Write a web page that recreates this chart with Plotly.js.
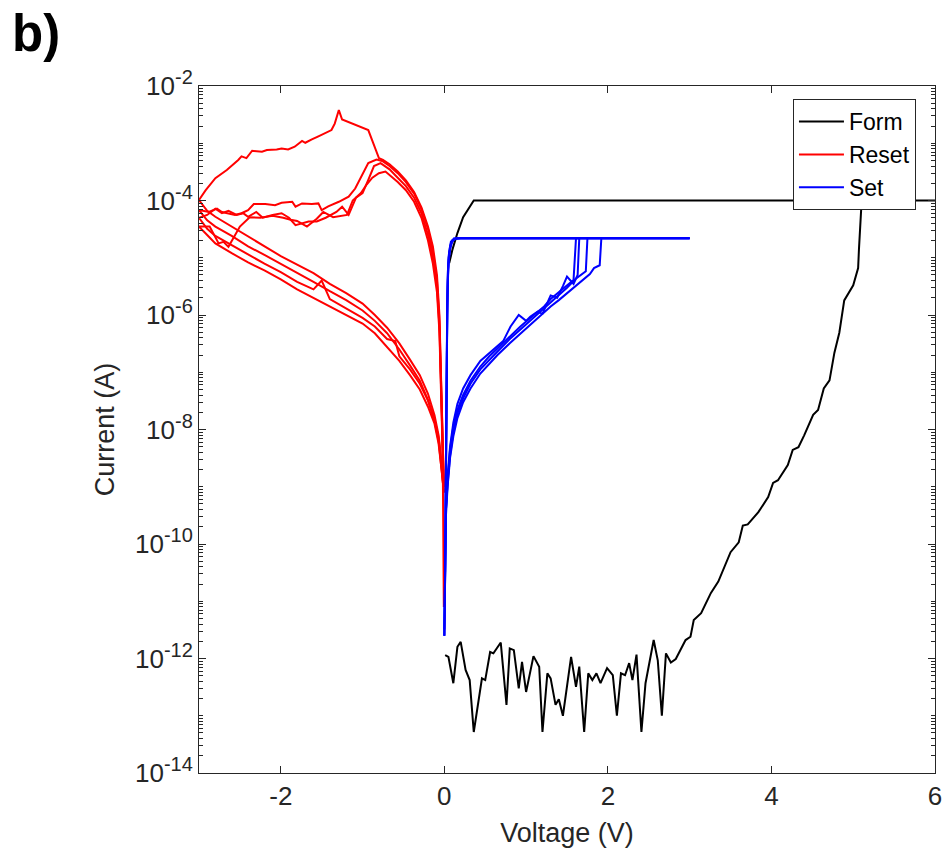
<!DOCTYPE html>
<html>
<head>
<meta charset="utf-8">
<script src="https://cdn.plot.ly/plotly-3.0.1.min.js"></script>
<style>html,body{margin:0;padding:0;background:#fff;}#chart{width:942px;height:852px;}</style>
</head>
<body>
<div id="chart"></div>
<script>
// ---------------- Data (Voltage in V, Current in A) ----------------
const formV = [0.01,0.05,0.11,0.16,0.20,0.26,0.31,0.36,0.46,0.50,0.56,0.60,0.69,0.76,0.80,0.85,0.91,0.95,1.00,1.09,1.16,1.20,1.26,1.30,1.36,1.40,1.45,1.55,1.61,1.65,1.71,1.76,1.81,1.86,1.91,1.99,2.06,2.11,2.16,2.21,2.26,2.30,2.35,2.41,2.46,2.56,2.61,2.66,2.71,2.77,2.83,2.89,2.95,3.01,3.05,3.14,3.26,3.35,3.50,3.60,3.65,3.71,3.84,3.96,4.02,4.08,4.20,4.26,4.33,4.40,4.51,4.57,4.64,4.71,4.77,4.83,4.89,5.00,5.06,5.07,5.10,5.12,6.00,0.36,0.23,0.16,0.10,0.06];
const formI = [1.15e-12,1.07e-12,3.7e-13,1.6e-12,1.95e-12,6.3e-13,4.2e-13,5.2e-14,4.5e-13,4.2e-13,1.3e-12,1.23e-12,1.9e-12,1.55e-13,1.5e-12,1.4e-12,3.0e-13,8.7e-13,2.6e-13,1.1e-12,7.2e-13,5.2e-14,5.5e-13,4.5e-13,1.55e-13,1.95e-13,1.0e-13,1.07e-12,3.2e-13,7.2e-13,5.2e-14,5.5e-13,4.2e-13,5.5e-13,3.7e-13,6.8e-13,5.1e-13,1.0e-13,5.5e-13,5.1e-13,8.3e-13,4.2e-13,1.17e-12,5.2e-14,3.7e-13,2.1e-12,9.3e-13,1.0e-13,1.23e-12,8.5e-13,9.8e-13,1.4e-12,2.1e-12,2.4e-12,4.7e-12,6.2e-12,1.4e-11,2.2e-11,7.2e-11,1.07e-10,2.1e-10,2.2e-10,3.6e-10,6.6e-10,1.17e-9,1.3e-9,2.4e-9,4.4e-9,4.9e-9,7.9e-9,1.8e-8,2.2e-8,5.2e-8,7.2e-8,2.2e-7,4.9e-7,1.8e-6,3.3e-6,6.6e-6,1.4e-5,8.3e-5,1e-4,1e-4,1e-4,5.1e-5,2.7e-5,1.4e-5,8.1e-6];

const resetV1 = [-0.005,-0.015,-0.03,-0.045,-0.06,-0.09,-0.14,-0.2,-0.28,-0.37,-0.47,-0.57,-0.67,-0.75,-0.80,-0.93,-1.13,-1.25,-1.29,-1.34,-1.38,-1.46,-1.54,-1.62,-1.70,-1.74,-1.83,-1.91,-1.99,-2.05,-2.17,-2.23,-2.35,-2.42,-2.48,-2.52,-2.66,-2.80,-2.92,-3.0,
  -2.9,-2.8,-2.6,-2.4,-2.2,-2.0,-1.8,-1.6,-1.4,-1.2,-1.0,-0.85,-0.7,-0.55,-0.42,-0.3,-0.2,-0.12,-0.07,-0.04,-0.02,-0.005];
const resetI1 = [1e-9,3.2e-9,2.5e-8,1.58e-7,1e-6,5e-6,1.58e-5,3.5e-5,7.6e-5,1.41e-4,2.24e-4,3.2e-4,4.3e-4,5.1e-4,5.5e-4,1.7e-3,2.2e-3,2.6e-3,3.8e-3,2.2e-3,1.7e-3,1.48e-3,1.32e-3,1.17e-3,1.02e-3,1.1e-3,8.7e-4,7.8e-4,8.1e-4,7.8e-4,7.6e-4,7.1e-4,7.4e-4,5.5e-4,5.9e-4,5.1e-4,3.4e-4,2.45e-4,1.5e-4,1.02e-4,
  6.6e-5,5.2e-5,3.5e-5,2.4e-5,1.58e-5,1.07e-5,7.6e-6,5.4e-6,3.5e-6,2.4e-6,1.58e-6,1e-6,6e-7,3.2e-7,1.66e-7,8.9e-8,4.2e-8,1.78e-8,7.9e-9,3.2e-9,1.26e-9,7.9e-10];

const resetV2 = [-0.005,-0.015,-0.03,-0.045,-0.06,-0.09,-0.14,-0.2,-0.28,-0.37,-0.47,-0.57,-0.67,-0.76,-0.83,-0.93,-1.0,-1.09,-1.17,-1.29,-1.42,-1.50,-1.54,-1.62,-1.74,-1.82,-1.86,-1.99,-2.07,-2.19,-2.33,-2.40,-2.48,-2.56,-2.72,-2.78,-2.88,-3.0,
  -2.9,-2.8,-2.6,-2.4,-2.2,-2.0,-1.8,-1.6,-1.4,-1.2,-1.0,-0.85,-0.7,-0.55,-0.42,-0.3,-0.2,-0.12,-0.07,-0.04,-0.02,-0.005];
const resetI2 = [1e-9,2.5e-9,2e-8,1.26e-7,7.9e-7,4e-6,1.26e-5,3.2e-5,7.1e-5,1.32e-4,2.1e-4,3e-4,4e-4,4.9e-4,5.2e-4,4.5e-4,2.8e-4,1.62e-4,1.17e-4,9.5e-5,7.9e-5,6.8e-5,8.9e-5,8.7e-5,8.9e-5,7.8e-5,9.5e-5,9.1e-5,8.3e-5,8.7e-5,8.7e-5,6.8e-5,6e-5,5.6e-5,6.3e-5,7.2e-5,6.3e-5,6.8e-5,
  4.5e-5,3.5e-5,2.4e-5,1.58e-5,1.12e-5,7.9e-6,5.4e-6,3.8e-6,2.6e-6,1.82e-6,1.2e-6,7.9e-7,4.8e-7,2.5e-7,1.32e-7,7.1e-8,3.3e-8,1.51e-8,7.1e-9,2.8e-9,1.26e-9,1e-9];

const resetV3 = [-0.005,-0.015,-0.03,-0.045,-0.06,-0.09,-0.14,-0.2,-0.28,-0.37,-0.47,-0.57,-0.67,-0.78,-0.86,-0.93,-1.0,-1.08,-1.17,-1.25,-1.32,-1.45,-1.56,-1.66,-1.74,-1.82,-1.90,-1.99,-2.10,-2.22,-2.30,-2.40,-2.46,-2.54,-2.64,-2.72,-2.80,-2.90,-3.0,
  -2.9,-2.8,-2.6,-2.4,-2.2,-2.0,-1.8,-1.6,-1.5,-1.4,-1.2,-1.0,-0.85,-0.7,-0.6,-0.55,-0.42,-0.3,-0.2,-0.12,-0.07,-0.04,-0.02,-0.005];
const resetI3 = [7.9e-10,2e-9,1.58e-8,1e-7,6.3e-7,3.2e-6,1e-5,2.5e-5,6e-5,1.12e-4,1.78e-4,2.5e-4,3.5e-4,4.5e-4,4e-4,2.3e-4,1.35e-4,1.12e-4,5.6e-5,7.8e-5,6.3e-5,5e-5,4.3e-5,4.3e-5,4e-5,3.7e-5,5e-5,6e-5,5.6e-5,5e-5,6.3e-5,5.2e-5,6e-5,5.6e-5,6.6e-5,6e-5,7.2e-5,5.6e-5,5e-5,
  3.2e-5,2.4e-5,1.66e-5,1.12e-5,7.9e-6,5.6e-6,3.8e-6,2.8e-6,4e-6,1.9e-6,1.32e-6,8.9e-7,6.3e-7,3.8e-7,3.5e-7,1.9e-7,1.12e-7,6.3e-8,3.2e-8,1.41e-8,6.3e-9,2.5e-9,1.12e-9,7.9e-10];

const resetV4 = [-0.006,-0.009,-0.012,-0.018,-0.03,-0.045,-0.06,-0.09,-0.14,-0.2,-0.28,-0.37,-0.47,-0.57,-0.67,-0.72,-0.8,-0.88,-0.95,-1.02,-1.12,-1.19,-1.36,-1.48,-1.56,-1.68,-1.80,-1.88,-1.97,-2.1,-2.25,-2.38,-2.5,-2.56,-2.64,-2.70,-2.76,-2.87,-3.0,
  -2.9,-2.8,-2.6,-2.4,-2.2,-2.0,-1.8,-1.6,-1.4,-1.2,-1.0,-0.85,-0.7,-0.55,-0.42,-0.3,-0.2,-0.12,-0.07,-0.04,-0.02,-0.01];
const resetI4 = [7.9e-12,6.3e-11,4e-10,1.58e-9,1.26e-8,7.9e-8,5e-7,2.5e-6,7.9e-6,2e-5,5e-5,9.5e-5,1.51e-4,2.1e-4,2.75e-4,3.2e-4,3e-4,2.5e-4,1.9e-4,1.35e-4,1e-4,5.6e-5,5.1e-5,6.3e-5,4.8e-5,3.5e-5,4.4e-5,4.6e-5,5e-5,5.4e-5,5e-5,5.1e-5,3.5e-5,2.5e-5,1.55e-5,1.9e-5,1.78e-5,3.5e-5,3.5e-5,
  2.5e-5,1.78e-5,1.2e-5,8.3e-6,6e-6,4.2e-6,2.8e-6,2e-6,1.41e-6,1e-6,7.1e-7,4.8e-7,2.8e-7,1.58e-7,8.9e-8,5e-8,2.5e-8,1.26e-8,5.6e-9,2.2e-9,1.12e-9,1e-9];

const setV1 = [0,0.005,0.01,0.02,0.04,0.07,0.11,0.16,0.23,0.32,0.44,0.55,0.65,0.8,0.93,1.05,1.14,1.22,1.3,1.4,1.5,1.58,1.61,3.0,0.15,0.1,0.07,0.05,0.04,0.035,0.03,0.025,0.02,0.01];
const setI1 = [2.5e-12,1.58e-11,1e-10,4e-10,1.26e-9,4.5e-9,1.12e-8,2.2e-8,4e-8,7.1e-8,1.26e-7,1.9e-7,2.6e-7,4.2e-7,6.3e-7,8.9e-7,1.12e-6,1.41e-6,1.9e-6,2.5e-6,3.3e-6,4.1e-6,2.2e-5,2.2e-5,2.2e-5,2e-5,1.58e-5,1e-5,4e-6,1e-6,1e-7,1e-8,1e-9,3.2e-11];

const setV2 = [0,0.005,0.01,0.02,0.04,0.07,0.11,0.16,0.23,0.32,0.44,0.5,0.6,0.65,0.72,0.81,0.91,1.0,1.05,1.14,1.2,1.3,1.38,1.45,1.5,1.58,1.63,1.65,3.0,0.2,0.12,0.08,0.06,0.045,0.035,0.03,0.025,0.02,0.01];
const setI2 = [3.2e-12,2.5e-11,1.26e-10,5e-10,1.58e-9,5e-9,1.32e-8,2.8e-8,5.2e-8,8.9e-8,1.58e-7,1.86e-7,2.5e-7,2.8e-7,3.5e-7,6.3e-7,1e-6,7.9e-7,9.3e-7,1.15e-6,1.05e-6,2.2e-6,2e-6,3.2e-6,4.7e-6,3.5e-6,5e-6,2.2e-5,2.2e-5,2.2e-5,2.1e-5,1.78e-5,1.12e-5,5e-6,1e-6,1e-7,1e-8,1e-9,3.2e-11];

const setV3 = [0,0.005,0.01,0.02,0.04,0.07,0.11,0.16,0.23,0.32,0.44,0.55,0.65,0.8,0.93,1.05,1.14,1.22,1.3,1.4,1.5,1.6,1.68,1.73,1.75,3.0,0.15,0.1,0.07,0.05,0.04,0.033,0.028,0.022,0.012];
const setI3 = [2.5e-12,2e-11,1e-10,4e-10,1.12e-9,3.5e-9,8.9e-9,1.9e-8,3.5e-8,6.3e-8,1.12e-7,1.66e-7,2.3e-7,3.8e-7,5.6e-7,7.9e-7,1.05e-6,1.32e-6,1.66e-6,2.2e-6,3e-6,4.2e-6,5.2e-6,5.8e-6,2.2e-5,2.2e-5,2.2e-5,2e-5,1.41e-5,7.9e-6,2.5e-6,3.2e-7,3.2e-8,2.5e-9,6.3e-11];

const setV4 = [0,0.005,0.01,0.02,0.04,0.07,0.11,0.16,0.23,0.32,0.44,0.55,0.65,0.8,0.93,1.05,1.14,1.22,1.3,1.4,1.5,1.6,1.7,1.78,1.83,1.9,1.92,3.0,0.12,0.08,0.06,0.045,0.035,0.03,0.025,0.02,0.01];
const setI4 = [2.5e-12,1.26e-11,7.9e-11,3.2e-10,1e-9,3.2e-9,7.6e-9,1.58e-8,3e-8,5.2e-8,9.5e-8,1.41e-7,2e-7,3.2e-7,4.7e-7,6.6e-7,8.7e-7,1.12e-6,1.41e-6,1.82e-6,2.4e-6,3.2e-6,4.2e-6,5.2e-6,6.6e-6,7.4e-6,2.2e-5,2.2e-5,2.2e-5,1.9e-5,1.26e-5,6.3e-6,1.58e-6,1.58e-7,1.58e-8,1.58e-9,5e-11];

const xTickVals = [-2, 0, 2, 4, 6];
const xTickText = ['-2', '0', '2', '4', '6'];
const yTickVals = [1e-14, 1e-12, 1e-10, 1e-8, 1e-6, 1e-4, 1e-2];
const yTickExp = ['-14', '-12', '-10', '-8', '-6', '-4', '-2'];

// ---------------- Traces ----------------
const FONT = 'Liberation Sans, Arial, Helvetica, sans-serif';
const yTickText = yTickExp.map(e => '10<sup><span style="font-size:20px">' + e + '</span></sup>');
function tr(x, y, name, color, show) {
  return {x: x, y: y, type: 'scatter', mode: 'lines', name: name, legendgroup: name,
          showlegend: show, line: {color: color, width: 2}, hoverinfo: 'skip'};
}
const data = [
  tr(formV, formI, 'Form', '#000000', true),
  tr(resetV1, resetI1, 'Reset', '#ff0000', true),
  tr(resetV2, resetI2, 'Reset', '#ff0000', false),
  tr(resetV3, resetI3, 'Reset', '#ff0000', false),
  tr(resetV4, resetI4, 'Reset', '#ff0000', false),
  tr(setV1, setI1, 'Set', '#0000ff', true),
  tr(setV2, setI2, 'Set', '#0000ff', false),
  tr(setV3, setI3, 'Set', '#0000ff', false),
  tr(setV4, setI4, 'Set', '#0000ff', false)
];

const axisCol = '#262626';
const layout = {
  width: 942, height: 852,
  margin: {l: 199, r: 7, t: 86, b: 79, pad: 0},
  paper_bgcolor: '#ffffff', plot_bgcolor: '#ffffff',
  font: {family: FONT, color: axisCol},
  showlegend: true,
  legend: {x: 0.807, y: 0.981, xanchor: 'left', yanchor: 'top', bgcolor: '#ffffff',
           bordercolor: axisCol, borderwidth: 1, font: {family: FONT, size: 23, color: '#000'},
           tracegroupgap: 0, itemwidth: 45},
  xaxis: {
    range: [-3, 6], tickmode: 'array', tickvals: xTickVals, ticktext: xTickText,
    ticks: 'inside', ticklen: 7, tickwidth: 1, tickcolor: axisCol,
    showline: true, linecolor: axisCol, linewidth: 1, mirror: 'ticks',
    showgrid: false, zeroline: false, ticklabeloverflow: 'allow',
    tickfont: {family: FONT, size: 26, color: axisCol},
    title: {text: 'Voltage (V)', font: {family: FONT, size: 27, color: axisCol}, standoff: 12}
  },
  yaxis: {
    type: 'log', range: [-14, -2], tickmode: 'array', tickvals: yTickVals, ticktext: yTickText,
    ticks: 'inside', ticklen: 7, tickwidth: 1, tickcolor: axisCol,
    minor: {ticks: 'inside', ticklen: 4, tickcolor: axisCol, dtick: 'D1', showgrid: false},
    showline: true, linecolor: axisCol, linewidth: 1, mirror: 'ticks',
    showgrid: false, zeroline: false, ticklabeloverflow: 'allow',
    tickfont: {family: FONT, size: 26, color: axisCol},
    title: {text: 'Current (A)', font: {family: FONT, size: 27, color: axisCol}, standoff: 12}
  },
  annotations: [{
    text: '<b>b)</b>', xref: 'paper', yref: 'paper', x: -0.257, y: 1.121,
    xanchor: 'left', yanchor: 'top', showarrow: false,
    font: {family: FONT, size: 51, color: '#000'}
  }]
};

Plotly.newPlot('chart', data, layout, {displayModeBar: false, staticPlot: true});
</script>
</body>
</html>
